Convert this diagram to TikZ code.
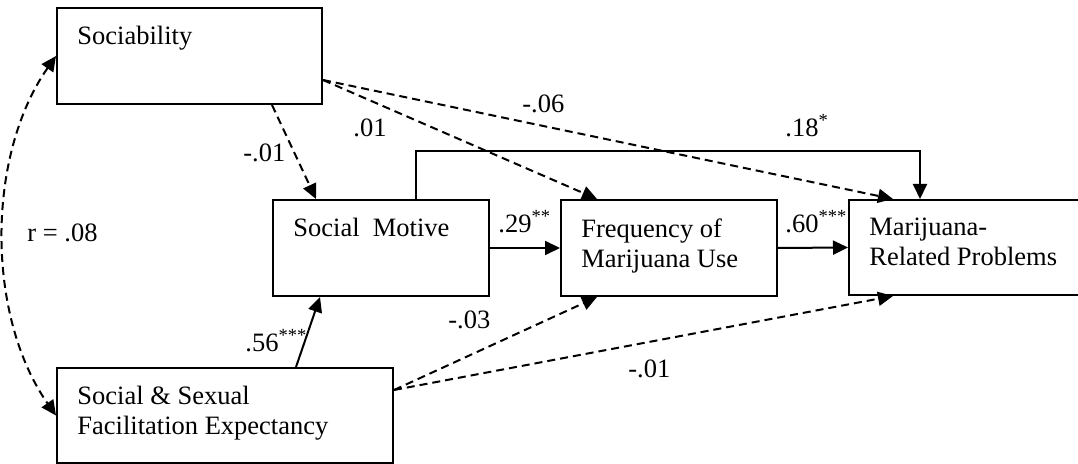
\documentclass[tikz,border=0pt]{standalone}
\usepackage{fontspec}
\setmainfont{Liberation Serif}
\usepackage{tikz}
\usetikzlibrary{arrows.meta}
\usetikzlibrary{calc}

\tikzset{
  box/.style={draw, line width=1pt, anchor=north west, inner sep=0pt},
  boxtext/.style={anchor=north west, inner sep=0pt, align=left},
  coef/.style={anchor=base west, inner sep=0pt},
  sig/.style={->, line width=1pt},
  nonsig/.style={->, line width=1pt, dash pattern=on 4pt off 2.5pt}
}

\begin{document}
\begin{tikzpicture} [x=0.5pt, y=0.5pt, >={Triangle[length=7.5pt,width=7pt]}, font=\fontsize{13.25}{15}\selectfont]
    \useasboundingbox (0,0) rectangle (1078,-464);
    % boxes
    \node [box, minimum width=132.5pt, minimum height=48pt] (soc) at (56,-7) {};
    \node [box, minimum width=108pt, minimum height=48pt] (sm) at (272,-199) {};
    \node [box, minimum width=108pt, minimum height=48pt] (freq) at (560,-199) {};
    \node [box, minimum width=120pt, minimum height=47.5pt] (prob) at (848,-199) {};
    \node [box, minimum width=168pt, minimum height=47.5pt] (ssfe) at (56,-367) {};
    \node [boxtext] (soct) at ($(soc.north west)+(21,-19)$) {Sociability};
    \node [boxtext] (smt) at ($(sm.north west)+(21,-19)$) {Social\ \ Motive};
    \node [boxtext] (freqt) at ($(freq.north west)+(21,-19)$) {Frequency of\\Marijuana Use};
    \node [boxtext] (probt) at ($(prob.north west)+(21,-19)$) {Marijuana-\\Related Problems};
    \node [boxtext] (ssfet) at ($(ssfe.north west)+(21,-19)$) {Social \& Sexual\\Facilitation Expectancy};
    % paths
    \draw [nonsig] ($(soc.south west)+(216,0)$) -- ($(sm.north west)+(44,0)$);
    \draw [nonsig] ($(soc.north east)+(0,-73)$) -- ($(freq.north west)+(37,0)$);
    \draw [nonsig] ($(soc.north east)+(0,-73)$) -- ($(prob.north west)+(45,0)$);
    \draw [sig] ($(sm.north west)+(144,0)$) |- ($(prob.north west)+(72,48)$) -- ($(prob.north west)+(72,0)$);
    \draw [sig] (sm.east) -- (freq.west);
    \draw [sig] (freq.east) -- (prob.west);
    \draw [sig] ($(ssfe.north west)+(240,0)$) -- ($(sm.south west)+(48,0)$);
    \draw [nonsig] ($(ssfe.north east)+(0,-23)$) -- ($(freq.south west)+(37,0)$);
    \draw [nonsig] ($(ssfe.north east)+(0,-23)$) -- ($(prob.south west)+(45,0)$);
    \draw [nonsig, <->] (soc.west) to [out=-125, in=125, looseness=0.87] (ssfe.west);
    % coefficients
    \node [coef] (c1) at (243,-162) {-.01};
    \node [coef] (c2) at (353,-137) {.01};
    \node [coef] (c3) at (522,-113) {-.06};
    \node [coef] (c4) at (785,-137) {.18\textsuperscript{*}};
    \node [coef] (c5) at (498,-233) {.29\textsuperscript{**}};
    \node [coef] (c6) at (785,-233) {.60\textsuperscript{***}};
    \node [coef] (c7) at (245,-352) {.56\textsuperscript{***}};
    \node [coef] (c8) at (448,-329) {-.03};
    \node [coef] (c9) at (628,-378) {-.01};
    \node [coef] (c10) at (27,-242) {r = .08};
  \end{tikzpicture}
\end{document}
